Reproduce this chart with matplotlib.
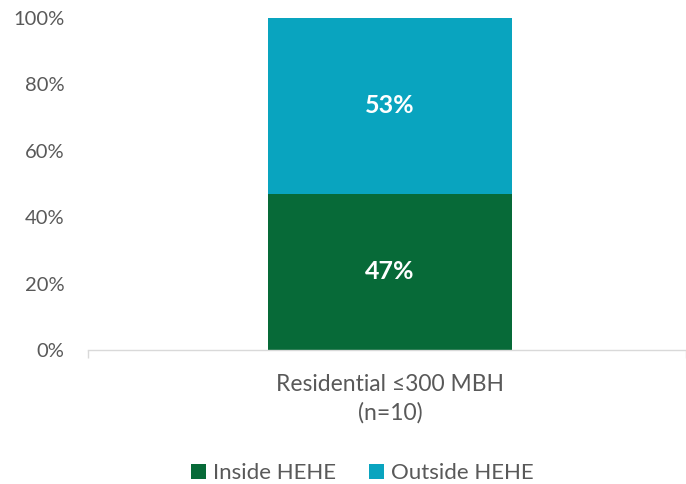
import matplotlib.pyplot as plt
from matplotlib.ticker import PercentFormatter

plt.rcParams['font.family'] = ['Lato', 'DejaVu Sans']

# data
categories = ['Residential \u2264300 MBH\n(n=10)']
inside_hehe = [47]
outside_hehe = [53]
series_names = ['Inside HEHE', 'Outside HEHE']
y_ticks = [0, 20, 40, 60, 80, 100]

green = '#076A38'
teal = '#09A4BF'
grey_text = '#595959'

fig = plt.figure(figsize=(6.86, 4.84), dpi=100)
ax = fig.add_axes([0.128, 0.277, 0.872, 0.686])

x = list(range(len(categories)))
b1 = ax.bar(x, inside_hehe, width=0.407, color=green, label=series_names[0])
b2 = ax.bar(x, outside_hehe, width=0.407, bottom=inside_hehe, color=teal, label=series_names[1])

for bars, vals, base in [(b1, inside_hehe, [0] * len(x)), (b2, outside_hehe, inside_hehe)]:
    for rect, v, b in zip(bars, vals, base):
        ax.text(rect.get_x() + rect.get_width() / 2, b + v / 2, f'{v}%',
                ha='center', va='center', color='white', fontsize=18, fontweight='bold')

ax.set_xlim(-0.505, 0.495)
ax.set_ylim(0, 100)
ax.set_yticks(y_ticks)
ax.yaxis.set_major_formatter(PercentFormatter(decimals=0))
ax.tick_params(axis='y', length=0, pad=17, labelsize=14.5, labelcolor=grey_text)
ax.set_xticks([-0.505, 0.495], minor=True)
ax.set_xticks(x)
ax.set_xticklabels(categories, fontsize=16.5, color=grey_text, linespacing=1.45)
ax.tick_params(axis='x', which='major', length=0, pad=17)
ax.tick_params(axis='x', which='minor', length=6, color='#D9D9D9', width=1)

for s in ['top', 'right', 'left']:
    ax.spines[s].set_visible(False)
ax.spines['bottom'].set_color('#D9D9D9')
ax.spines['bottom'].set_linewidth(1)

fig.legend(handles=[b1, b2], labels=series_names, loc='lower center',
           bbox_to_anchor=(0.528, -0.04), ncol=2, frameon=False, fontsize=16,
           handlelength=0.68, handleheight=0.68, handletextpad=0.3, columnspacing=1.5,
           labelcolor=grey_text)

fig.savefig('out.png', dpi=100)
